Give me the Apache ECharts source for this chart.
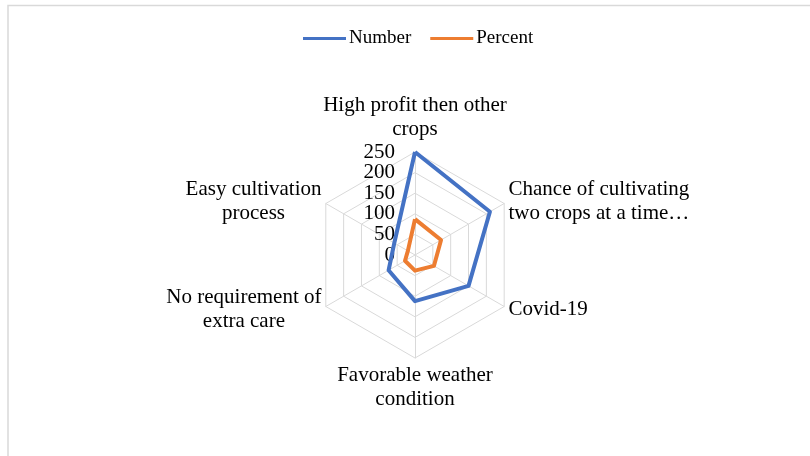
<!DOCTYPE html>
<html>
<head>
<meta charset="utf-8">
<title>Radar</title>
<script src="https://cdn.jsdelivr.net/npm/echarts@6/dist/echarts.min.js"></script>
<style>
	html, body { margin: 0; padding: 0; background: #fff; }
	#chart { width: 810px; height: 456px; }
</style>
</head>
<body>
<div id="chart"></div>
<script>
//指标顺序: 从顶部开始逆时针
var categories = [
	'High profit then other\ncrops',
	'Easy cultivation\nprocess',
	'No requirement of\nextra care',
	'Favorable weather\ncondition',
	'Covid-19',
	'Chance of cultivating\ntwo crops at a time…'
];
var numberValues = [250, 58, 74, 112, 150, 210];
var percentValues = [87, 20, 28, 38, 53, 73];
var seriesNames = ['Number', 'Percent'];
var tickLabels = [0, 50, 100, 150, 200, 250];
var axisMax = 250;

var fontName = '"Liberation Serif", "Times New Roman", serif';

//刻度标签太密会被隐藏, 所以分两层雷达轴各画一半
function makeIndicators(keep) {
	var arr = [];
	for (var i = 0; i < categories.length; i++) {
		var ind = { name: categories[i], max: axisMax, min: 0 };
		if (i == 0) {
			ind.axisLabel = {
				show: true,
				showMinLabel: true,
				showMaxLabel: true,
				formatter: function (v) {
					var idx = tickLabels.indexOf(v);
					return (idx >= 0 && idx % 2 == keep) ? String(tickLabels[idx]) : '';
				}
			};
		}
		arr.push(ind);
	}
	return arr;
}

var labelStyle = {
	show: false,
	margin: 20,
	color: '#000',
	fontFamily: fontName,
	fontSize: 21
};

option = {
	color: ['#4472C4', '#ED7D31'],
	textStyle: { fontFamily: fontName },
	graphic: [{
		type: 'rect',
		shape: { x: 8, y: 5.5, width: 900, height: 600 },
		style: { fill: 'none', stroke: '#D9D9D9', lineWidth: 1.5 },
		silent: true
	}],
	legend: {
		top: 24,
		left: 298,
		itemWidth: 43,
		itemHeight: 3,
		itemGap: 19,
		icon: 'rect',
		data: seriesNames,
		textStyle: { fontFamily: fontName, fontSize: 19, color: '#000', padding: [0, 0, 0, -2] }
	},
	radar: [{
		center: [415, 255],
		radius: 103,
		startAngle: 90,
		shape: 'polygon',
		splitNumber: 5,
		nameGap: 5,
		indicator: makeIndicators(1),
		axisName: {
			color: '#000',
			fontFamily: fontName,
			fontSize: 21,
			lineHeight: 24,
			formatter: function (name) {
				return name.split('\n').map(function (s) {
					return '{c|' + s + '}';
				}).join('\n');
			},
			rich: {
				c: {
					align: 'center',
					color: '#000',
					fontFamily: fontName,
					fontSize: 21,
					lineHeight: 24
				}
			}
		},
		axisLabel: labelStyle,
		axisTick: { show: false },
		axisLine: { lineStyle: { color: '#D9D9D9', width: 1 } },
		splitLine: { lineStyle: { color: '#D9D9D9', width: 1 } },
		splitArea: { show: false }
	}, {
		//第二层: 只画另一半刻度标签
		center: [415, 255],
		radius: 103,
		startAngle: 90,
		shape: 'polygon',
		splitNumber: 5,
		indicator: makeIndicators(0),
		axisName: { show: false },
		axisLabel: labelStyle,
		axisTick: { show: false },
		axisLine: { show: false },
		splitLine: { show: false },
		splitArea: { show: false }
	}],
	series: [{
		type: 'radar',
		radarIndex: 0,
		symbol: 'none',
		animation: false,
		data: [{
			name: seriesNames[0],
			value: numberValues,
			lineStyle: { width: 4, color: '#4472C4' },
			itemStyle: { color: '#4472C4' }
		}, {
			name: seriesNames[1],
			value: percentValues,
			lineStyle: { width: 4, color: '#ED7D31' },
			itemStyle: { color: '#ED7D31' }
		}]
	}]
};

var chart = echarts.init(document.getElementById('chart'));
chart.setOption(option, true);
</script>
</body>
</html>
